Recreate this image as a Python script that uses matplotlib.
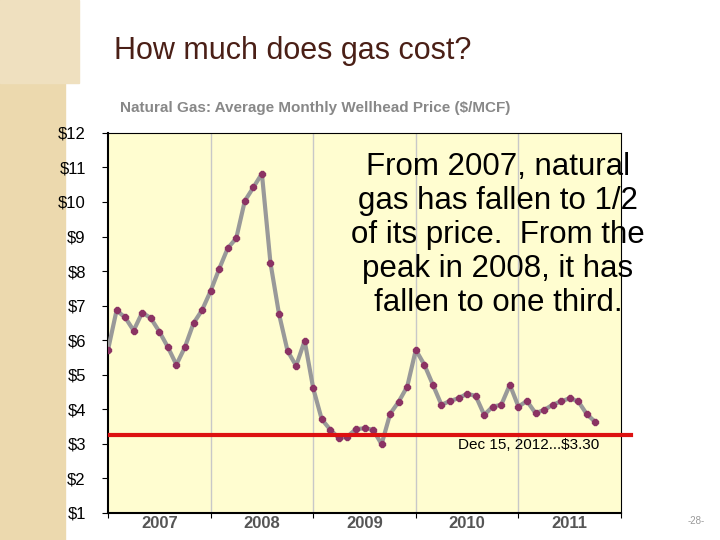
import numpy as np
import matplotlib.pyplot as plt
from matplotlib.patches import Rectangle

plt.rcParams['font.family'] = ['Liberation Sans', 'DejaVu Sans']

# monthly wellhead price, Jan 2007 .. Oct 2011 ($/MCF)
prices = [5.72, 6.86, 6.66, 6.28, 6.80, 6.64, 6.25, 5.80, 5.29, 5.80, 6.49, 6.87,
          7.42, 8.06, 8.66, 8.95, 10.03, 10.42, 10.82, 8.24, 6.76, 5.69, 5.26, 5.98,
          4.61, 3.71, 3.41, 3.17, 3.21, 3.43, 3.45, 3.41, 2.99, 3.87, 4.22, 4.66,
          5.72, 5.29, 4.71, 4.13, 4.24, 4.32, 4.45, 4.39, 3.84, 4.08, 4.13, 4.71,
          4.08, 4.24, 3.89, 3.98, 4.13, 4.23, 4.32, 4.23, 3.86, 3.63]
years = ["2007", "2008", "2009", "2010", "2011"]
yticks = list(range(1, 13))
current_price = 3.27

fig = plt.figure(figsize=(7.2, 5.4), dpi=100)
fig.patch.set_facecolor("white")

# slide decoration on the left
fig.add_artist(Rectangle((0, 0), 65/720, 1, transform=fig.transFigure,
                         color="#ecd9ae", zorder=0))
fig.add_artist(Rectangle((0, 1 - 83/540), 79/720, 83/540, transform=fig.transFigure,
                         color="#efe0bf", zorder=0))

fig.text(0.158, 0.89, "How much does gas cost?", fontsize=22, color="#4a1f16")
fig.text(0.167, 0.792, "Natural Gas: Average Monthly Wellhead Price ($/MCF)",
         fontsize=11, color="#888888", fontweight="bold")
fig.text(0.955, 0.03, "-28-", fontsize=7, color="#999999")

ax = fig.add_axes([0.15, 0.05, 0.7125, 0.704])
ax.set_facecolor("#fffdd0")
x = np.arange(len(prices))
ax.plot(x, prices, color="#999999", lw=3, zorder=3)
ax.plot(x, prices, "8", color="#8b3363", ms=5, zorder=4)
ax.set_xlim(0, 60)
ax.set_ylim(1, 12)
ax.set_yticks(yticks)
ax.set_yticklabels([f"${v}" for v in yticks], fontsize=12)
ax.set_xticks(range(0, 61, 12))
ax.set_xticklabels([])
ax.set_xticks([6 + 12 * i for i in range(5)], minor=True)
ax.set_xticklabels(years, minor=True, fontsize=12, color="#555555", fontweight="bold")
ax.tick_params(axis="x", which="minor", length=0, pad=2)
ax.tick_params(axis="y", length=4, pad=12)
for xv in range(12, 60, 12):
    ax.axvline(xv, color="#c8c8c8", lw=1, zorder=1)
for s in ["left", "bottom"]:
    ax.spines[s].set_linewidth(1.5)
for s in ["top", "right"]:
    ax.spines[s].set_linewidth(0.8)

ax.axhline(current_price, xmin=0.004, xmax=1.02, color="#dd1111", lw=3,
           zorder=5, clip_on=False)
ax.text(40.9, 2.85, "Dec 15, 2012...$3.30", fontsize=11)
ax.text(45.6, 9.05, "From 2007, natural\ngas has fallen to 1/2\nof its price.  From the\npeak in 2008, it has\nfallen to one third.",
        fontsize=22.5, ha="center", va="center", linespacing=1.17, zorder=6)

plt.savefig("out.png", dpi=100)
